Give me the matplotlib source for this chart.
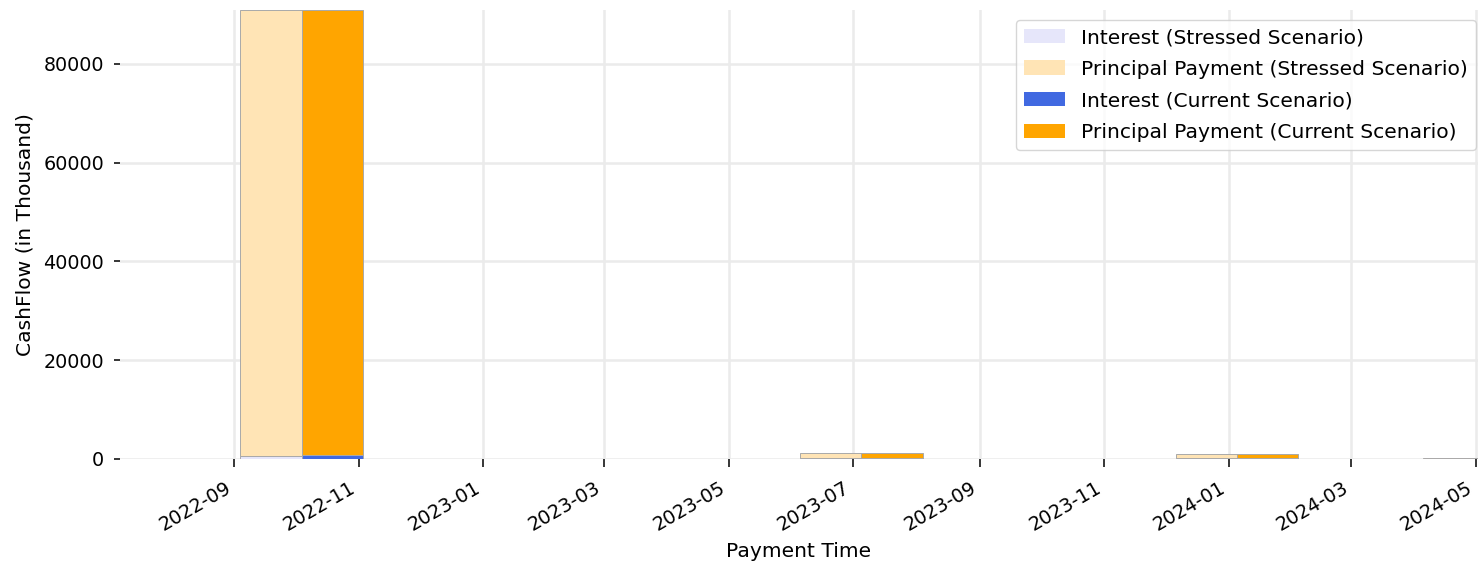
import pandas as pd
import numpy as np
import matplotlib.pyplot as plt
import matplotlib.dates as mdates


# ----------------------------
# Data (in thousand)
# ----------------------------

pay_dates = ["2022-10-04", "2023-07-05", "2024-01-05", "2024-05-05"]

interest_stressed  = [600, 150, 120, 40]
principal_stressed = [90300, 1000, 830, 260]
interest_current   = [800, 150, 120, 40]
principal_current  = [90100, 1000, 830, 260]


# ----------------------------
# Plot
# ----------------------------

dates = pd.to_datetime(pay_dates)
width = pd.Timedelta(days=30)

fig = plt.figure(figsize=(14.78, 5.61), dpi=100)
ax = fig.add_axes([120 / 1478, 1 - 459 / 561, 1 - 120 / 1478, (459 - 10) / 561])

edge = dict(edgecolor="darkgrey", linewidth=0.7)

ax.bar(dates, interest_stressed, width=-width, align="edge",
       color="lavender", label="Interest (Stressed Scenario)", **edge)
ax.bar(dates, principal_stressed, width=-width, align="edge",
       bottom=interest_stressed, color="moccasin",
       label="Principal Payment (Stressed Scenario)", **edge)
ax.bar(dates, interest_current, width=width, align="edge",
       color="royalblue", label="Interest (Current Scenario)", **edge)
ax.bar(dates, principal_current, width=width, align="edge",
       bottom=interest_current, color="orange",
       label="Principal Payment (Current Scenario)", **edge)

top = max(np.add(interest_stressed, principal_stressed).max(),
          np.add(interest_current, principal_current).max())
ax.set_ylim(0, top)
ax.set_xlim(pd.Timestamp("2022-07-07"), pd.Timestamp("2024-05-02"))

ax.xaxis.set_major_locator(mdates.MonthLocator(bymonth=[1, 3, 5, 7, 9, 11]))
ax.xaxis.set_major_formatter(mdates.DateFormatter("%Y-%m"))
plt.setp(ax.get_xticklabels(), rotation=30, ha="right")

ax.tick_params(labelsize=13.8, width=1.1)
ax.tick_params(axis="x", length=6, pad=8)
ax.tick_params(axis="y", length=4.5, pad=7)
ax.set_xlabel("Payment Time", fontsize=14.6, labelpad=5)
ax.set_ylabel("CashFlow (in Thousand)", fontsize=14.6, labelpad=6)

for s in ax.spines.values():
    s.set_visible(False)
ax.grid(True, color="#ebebeb", linewidth=1.8)
ax.set_axisbelow(True)

leg = ax.legend(loc="upper right", fontsize=14.6, framealpha=0.8,
                labelspacing=0.62,
                bbox_to_anchor=(1476 / 1478, 1 - 20 / 561),
                bbox_transform=fig.transFigure, borderaxespad=0)
for h in leg.legend_handles:
    h.set_linewidth(0)

fig.savefig("out.png", dpi=100)
